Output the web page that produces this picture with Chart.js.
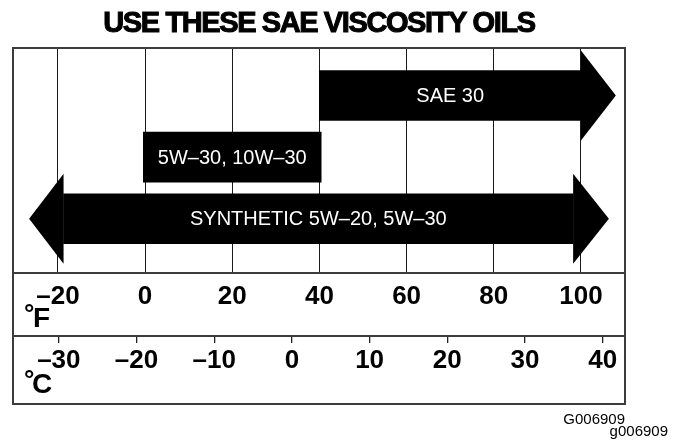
<!DOCTYPE html>
<html>
<head>
<meta charset="utf-8">
<script src="https://cdn.jsdelivr.net/npm/chart.js@4"></script>
<style>
  html, body { margin: 0; padding: 0; background: #fff; }
</style>
</head>
<body>
<canvas id="myChart" width="676" height="443"></canvas>
<script>

// oil grades and the temperature ranges they cover (in °F)
var oilGrades = ['SAE 30', '5W\u201330, 10W\u201330', 'SYNTHETIC 5W\u201320, 5W\u201330'];
var gradeRows = [1, 2, 3];
var rangeFrom = [40, -0.4, -18.7];
var rangeTo = [100, 40.4, 98.2];
var arrowLeftTip = [null, null, -26.6];
var arrowRightTip = [108, null, 106.4];

// axis labels
var fahrenheitTicks = [-20, 0, 20, 40, 60, 80, 100];
var celsiusTicks = [-30, -20, -10, 0, 10, 20, 30, 40];

var chartTitle = 'USE THESE SAE VISCOSITY OILS';
var figureCodes = ['G006909', 'g006909'];

var FONT = "'Liberation Sans', Arial, Helvetica, sans-serif";
var FRAME = '#3c3c3c';

function minusLabel(v) {
    return v < 0 ? '\u2013' + Math.abs(v) : String(v);
}

// arrow heads, text in bars, frame, degree symbols, title
var decorPlugin = {
    id: 'decor',
    afterDatasetsDraw: function(chart) {
        var ctx = chart.ctx;
        var xs = chart.scales.x;
        var meta = chart.getDatasetMeta(0);
        ctx.save();
        meta.data.forEach(function(bar, i) {
            var p = bar.getProps(['x', 'y', 'base', 'height'], true);
            var half = p.height * 0.9;
            ctx.fillStyle = '#000';
            if (arrowRightTip[i] != null) {
                var tipR = xs.getPixelForValue(arrowRightTip[i]);
                ctx.beginPath();
                ctx.moveTo(p.x, p.y - half);
                ctx.lineTo(tipR, p.y);
                ctx.lineTo(p.x, p.y + half);
                ctx.closePath();
                ctx.fill();
            }
            if (arrowLeftTip[i] != null) {
                var tipL = xs.getPixelForValue(arrowLeftTip[i]);
                ctx.beginPath();
                ctx.moveTo(p.base, p.y - half);
                ctx.lineTo(tipL, p.y);
                ctx.lineTo(p.base, p.y + half);
                ctx.closePath();
                ctx.fill();
            }
            ctx.fillStyle = '#fff';
            ctx.font = '20px ' + FONT;
            ctx.textAlign = 'center';
            ctx.textBaseline = 'middle';
            ctx.fillText(oilGrades[i], (p.x + p.base) / 2, p.y + 1);
        });
        ctx.restore();
    },
    afterDraw: function(chart) {
        var ctx = chart.ctx;
        var area = chart.chartArea;
        var fs = chart.scales.x;
        var cs = chart.scales.x2;
        ctx.save();

        // outer frame
        ctx.strokeStyle = FRAME;
        ctx.lineWidth = 2;
        ctx.strokeRect(area.left, area.top, area.right - area.left, cs.bottom - area.top);

        // unit symbols
        ctx.fillStyle = '#000';
        ctx.textAlign = 'left';
        ctx.textBaseline = 'alphabetic';
        ctx.font = 'bold 26px ' + FONT;
        ctx.fillText('\u00b0', area.left + 11, fs.top + 49);
        ctx.fillText('\u00b0', area.left + 11, cs.top + 52);
        ctx.font = 'bold 28px ' + FONT;
        ctx.fillText('F', area.left + 20, fs.top + 54);
        ctx.fillText('C', area.left + 19, cs.top + 57);

        // title
        ctx.font = 'bold 29px ' + FONT;
        ctx.textAlign = 'center';
        ctx.letterSpacing = '-1.4px';
        ctx.lineWidth = 1;
        ctx.strokeStyle = '#000';
        var tx = (area.left + area.right) / 2;
        ctx.fillText(chartTitle, tx, 32);
        ctx.strokeText(chartTitle, tx, 32);
        ctx.letterSpacing = '0px';

        // figure codes
        ctx.font = '15px ' + FONT;
        ctx.textAlign = 'right';
        ctx.fillText(figureCodes[0], area.right, cs.bottom + 20);
        ctx.fillText(figureCodes[1], chart.width - 8, cs.bottom + 32);
        ctx.restore();
    }
};

function renderChart() {
    var ctx = document.getElementById('myChart').getContext('2d');
    var bars = gradeRows.map(function(r, i) {
        return { x: [rangeFrom[i], rangeTo[i]], y: r };
    });
    new Chart(ctx, {
        type: 'bar',
        data: {
            labels: oilGrades,
            datasets: [{
                label: 'Viscosity',
                data: bars,
                backgroundColor: '#000',
                borderWidth: 0,
                barThickness: 50
            }]
        },
        options: {
            indexAxis: 'y',
            responsive: false,
            animation: false,
            layout: { padding: { top: 48, left: 13, right: 51, bottom: 39 } },
            plugins: {
                legend: { display: false },
                tooltip: { enabled: false }
            },
            scales: {
                y: {
                    type: 'linear',
                    reverse: true,
                    offset: false,
                    min: 0.23,
                    max: 3.88,
                    display: false
                },
                x: {
                    type: 'linear',
                    position: 'bottom',
                    weight: 0,
                    min: -30.3,
                    max: 110.1,
                    afterBuildTicks: function(s) {
                        s.ticks = fahrenheitTicks.map(function(v) { return { value: v }; });
                    },
                    afterFit: function(s) {
                        s.height = 63;
                        s.paddingLeft = 0;
                        s.paddingRight = 0;
                    },
                    grid: { color: '#1a1a1a', lineWidth: 1, drawTicks: false },
                    border: { display: true, color: FRAME, width: 2 },
                    ticks: {
                        color: '#000',
                        padding: 8,
                        maxRotation: 0,
                        font: { family: FONT, size: 26, weight: 'bold' },
                        callback: minusLabel
                    }
                },
                x2: {
                    type: 'linear',
                    position: 'bottom',
                    weight: 1,
                    min: -35.9,
                    max: 42.87,
                    afterBuildTicks: function(s) {
                        s.ticks = celsiusTicks.map(function(v) { return { value: v }; });
                    },
                    afterFit: function(s) {
                        s.height = 68;
                        s.paddingLeft = 0;
                        s.paddingRight = 0;
                    },
                    grid: { drawOnChartArea: false, drawTicks: true, tickLength: 7, color: '#222', lineWidth: 1.3 },
                    border: { display: true, color: FRAME, width: 2 },
                    ticks: {
                        color: '#000',
                        padding: 2,
                        maxRotation: 0,
                        font: { family: FONT, size: 26, weight: 'bold' },
                        callback: minusLabel
                    }
                }
            }
        },
        plugins: [decorPlugin]
    });
}

renderChart();
</script>
</body>
</html>
